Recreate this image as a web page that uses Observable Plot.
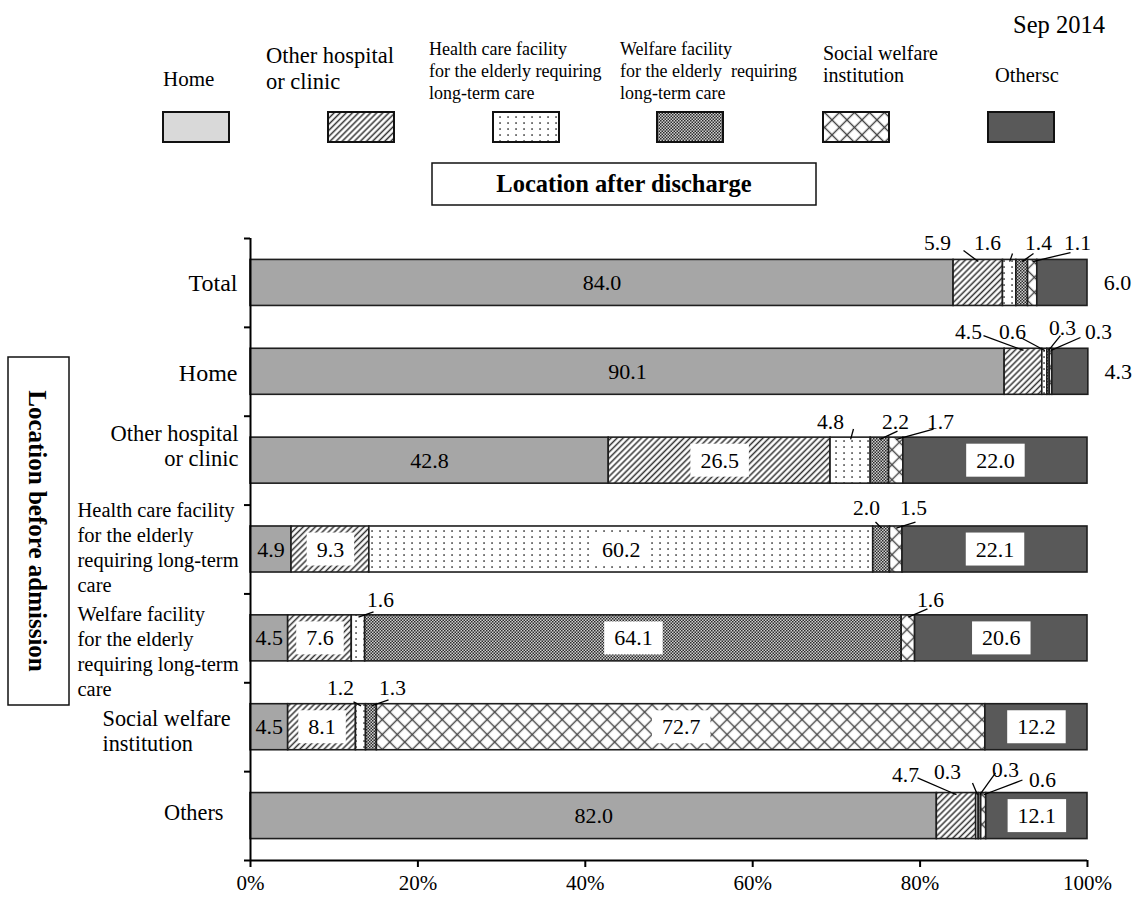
<!DOCTYPE html>
<html>
<head>
<meta charset="utf-8">
<script src="https://cdn.jsdelivr.net/npm/d3@7"></script>
<script src="https://cdn.jsdelivr.net/npm/@observablehq/plot@0.6"></script>
<style>
  body { margin: 0; background: #fff; }
  #wrap { position: relative; width: 1135px; height: 897px; }
  #wrap svg { position: absolute; left: 0; top: 0; }
  #wrap svg, #wrap svg text { font-family: "Liberation Serif", "Times New Roman", serif !important; }
  #overlay { pointer-events: none; }
</style>
</head>
<body>
<div id="wrap"></div>
<script>
// ---------------- data ----------------
const rows = [
  "Total",
  "Home",
  "Other hospital\nor clinic",
  "Health care facility\nfor the elderly\nrequiring long-term\ncare",
  "Welfare facility\nfor the elderly\nrequiring long-term\ncare",
  "Social welfare\ninstitution",
  "Others"
];
const series = [
  "Home",
  "Other hospital or clinic",
  "Health care facility for the elderly requiring long-term care",
  "Welfare facility for the elderly requiring long-term care",
  "Social welfare institution",
  "Othersc"
];
const legendLabels = [
  "Home",
  "Other hospital\nor clinic",
  "Health care facility\nfor the elderly requiring\nlong-term care",
  "Welfare facility\nfor the elderly  requiring\nlong-term care",
  "Social welfare\ninstitution",
  "Othersc"
];
const vHome     = [84.0, 90.1, 42.8,  4.9,  4.5,  4.5, 82.0];
const vHospital = [ 5.9,  4.5, 26.5,  9.3,  7.6,  8.1,  4.7];
const vHealth   = [ 1.6,  0.6,  4.8, 60.2,  1.6,  1.2,  0.3];
const vWelfare  = [ 1.4,  0.3,  2.2,  2.0, 64.1,  1.3,  0.3];
const vSocial   = [ 1.1,  0.3,  1.7,  1.5,  1.6, 72.7,  0.6];
const vOthers   = [ 6.0,  4.3, 22.0, 22.1, 20.6, 12.2, 12.1];
const xTicks = [0, 20, 40, 60, 80, 100];
const dateLabel = "Sep 2014";
const topTitle = "Location after discharge";
const sideTitle = "Location before admission";

// ---------------- styles / layout ----------------
const FONT = '"Liberation Serif","Times New Roman",serif';
const fills = ["#a6a6a6", "url(#pHatch)", "url(#pDots)", "url(#pCheck)", "url(#pLattice)", "#595959"];
const legendFills = ["#d9d9d9", "url(#pHatch)", "url(#pDots)", "url(#pCheck)", "url(#pLattice)", "#595959"];

// row label styling: anchor, dx, dy, font size, line height
const rowStyle = [
  {anchor: "end",   dx: -13,  dy: 0,   fs: 24,   lh: 1.1},
  {anchor: "end",   dx: -13,  dy: 1,   fs: 24,   lh: 1.1},
  {anchor: "end",   dx: -12,  dy: -15, fs: 22.5, lh: 1.11},
  {anchor: "start", dx: -173, dy: -3,  fs: 20.5, lh: 1.22},
  {anchor: "start", dx: -173, dy: 12,  fs: 20.5, lh: 1.22},
  {anchor: "start", dx: -148, dy: 3,   fs: 22.3, lh: 1.12},
  {anchor: "end",   dx: -27,  dy: -4,  fs: 22.3, lh: 1.1}
];

// leader-line annotation layout: [row, series, labelX, labelDy, lineStartX, lineStartDy]
const leaderLayout = [
  [0,1, 82.08,-0.443, 85.19,-0.365],
  [0,2, 88.05,-0.443, 91.04,-0.331],
  [0,3, 94.15,-0.443, 93.55,-0.331],
  [0,4, 98.81,-0.443, 97.97,-0.342],
  [1,1, 85.78,-0.442, 87.57,-0.408],
  [1,2, 91.04,-0.442, 92.00,-0.386],
  [1,3, 97.01,-0.487, 96.77,-0.408],
  [1,4, 101.31,-0.442, 99.16,-0.386],
  [2,2, 69.30,-0.434, 72.04,-0.356],
  [2,3, 77.06,-0.434, 77.30,-0.333],
  [2,4, 82.44,-0.434, 81.60,-0.356],
  [3,3, 73.60,-0.467, 74.67,-0.309],
  [3,4, 79.21,-0.467, 79.45,-0.309],
  [4,2, 15.53,-0.432, 14.70,-0.297],
  [4,4, 81.24,-0.432, 80.88,-0.331],
  [5,2, 10.75,-0.442, 12.31,-0.285],
  [5,3, 16.97,-0.442, 16.49,-0.307],
  [6,1, 78.26,-0.463, 79.69,-0.429],
  [6,2, 83.27,-0.496, 86.26,-0.372],
  [6,3, 90.20,-0.519, 89.01,-0.485],
  [6,4, 94.62,-0.406, 92.23,-0.406]
];

// ---------------- derived table ----------------
const valueCols = [vHome, vHospital, vHealth, vWelfare, vSocial, vOthers];
const segments = [];
rows.forEach((row, r) => {
  let acc = 0;
  valueCols.forEach((col, s) => {
    const v = col[r];
    segments.push({r, row, s, series: series[s], value: v, x1: acc, x2: acc + v, mid: acc + v / 2});
    acc += v;
  });
});
const fmt = d3.format(".1f");
const isInside = d => d.s === 0 || d.value >= 7;
const insidePlain = segments.filter(d => isInside(d) && d.s === 0);
const insideBoxed = segments.filter(d => isInside(d) && d.s !== 0);
const outside = segments.filter(d => !isInside(d) && d.s === 5);
const leaders = leaderLayout.map(([r, s, lx, ldy, sx, sdy]) => {
  const seg = segments.find(d => d.r === r && d.s === s);
  return {...seg, tx: lx, ty: r + 0.5 + ldy, ax: sx, ay: r + 0.5 + sdy, bx: seg.mid, by: r + 0.5 - 0.24};
});
const rowData = rows.map((label, r) => ({label, r}));

// ---------------- chart ----------------
const chart = Plot.plot({
  width: 1135,
  height: 897,
  marginTop: 238,
  marginBottom: 37,
  marginLeft: 250,
  marginRight: 48,
  style: {fontFamily: FONT, fontSize: "21px", background: "transparent", color: "black"},
  x: {domain: [0, 100]},
  y: {domain: [0, 7], reverse: true},
  color: {type: "ordinal", domain: series, range: fills},
  marks: [
    Plot.rect(segments, {
      x1: "x1", x2: "x2",
      y1: d => d.r + 0.241, y2: d => d.r + 0.759,
      fill: "series", stroke: "#1e1e1e", strokeWidth: 1.6
    }),
    Plot.ruleX([0], {y1: 0, y2: 7, stroke: "black", strokeWidth: 2}),
    Plot.ruleY([7], {x1: 0, x2: 100, stroke: "black", strokeWidth: 2}),
    Plot.axisY({ticks: d3.range(0, 8), tickSize: 6, tickFormat: () => "", strokeWidth: 2, anchor: "left", label: null}),
    Plot.axisX({ticks: xTicks, tickSize: 7, tickPadding: 8, tickFormat: d => d + "%", fontSize: 21, strokeWidth: 2, anchor: "bottom", label: null}),
    ...rowStyle.map((st, r) => Plot.text(rowData.filter(d => d.r === r), {
      x: () => 0, y: d => d.r + 0.5, text: "label",
      textAnchor: st.anchor, dx: st.dx, dy: st.dy, fontSize: st.fs, lineHeight: st.lh, fill: "black"
    })),
    Plot.text(insidePlain, {x: "mid", y: d => d.r + 0.5, text: d => fmt(d.value), fontSize: 22, fill: "black"}),
    Plot.text(insideBoxed, {x: "mid", y: d => d.r + 0.5, text: d => fmt(d.value), fontSize: 22, fill: "#010101"}),
    Plot.text(outside, {x: "x2", dx: 30, y: d => d.r + 0.5, text: d => fmt(d.value), fontSize: 22, fill: "black"}),
    Plot.link(leaders, {x1: "ax", y1: "ay", x2: "bx", y2: "by", stroke: "black", strokeWidth: 1.3}),
    Plot.text(leaders, {x: "tx", y: "ty", text: d => fmt(d.value), fontSize: 21.5, fill: "black"})
  ]
});

const wrap = document.getElementById("wrap");
wrap.append(chart);

// pattern definitions
const defsHTML = `
<pattern id="pHatch" patternUnits="userSpaceOnUse" width="4.3" height="4.3" patternTransform="rotate(45)">
  <rect width="4.3" height="4.3" fill="#ffffff"/>
  <line x1="2.15" y1="0" x2="2.15" y2="4.3" stroke="#303030" stroke-width="1.5"/>
</pattern>
<pattern id="pDots" patternUnits="userSpaceOnUse" width="8" height="6">
  <rect width="8" height="6" fill="#ffffff"/>
  <rect x="3.3" y="2.3" width="1.5" height="1.5" fill="#222"/>
</pattern>
<pattern id="pCheck" patternUnits="userSpaceOnUse" width="3" height="3">
  <rect width="3" height="3" fill="#cfcfcf"/>
  <rect x="0" y="0" width="1.5" height="1.5" fill="#2c2c2c"/>
  <rect x="1.5" y="1.5" width="1.5" height="1.5" fill="#2c2c2c"/>
</pattern>
<pattern id="pLattice" patternUnits="userSpaceOnUse" width="10.6" height="10.6" patternTransform="rotate(45)">
  <rect width="10.6" height="10.6" fill="#ffffff"/>
  <line x1="5.3" y1="0" x2="5.3" y2="10.6" stroke="#444" stroke-width="1.4"/>
  <line x1="0" y1="5.3" x2="10.6" y2="5.3" stroke="#444" stroke-width="1.4"/>
</pattern>`;
const defs = document.createElementNS("http://www.w3.org/2000/svg", "defs");
defs.innerHTML = defsHTML;
chart.insertBefore(defs, chart.firstChild);

// white boxes behind the labels sitting on patterned / dark segments
chart.querySelectorAll('g[fill="#010101"] text').forEach(t => {
  const b = t.getBBox();
  const r = document.createElementNS("http://www.w3.org/2000/svg", "rect");
  r.setAttribute("x", b.x - 10);
  r.setAttribute("y", b.y - 4);
  r.setAttribute("width", b.width + 20);
  r.setAttribute("height", b.height + 8);
  r.setAttribute("fill", "#ffffff");
  r.setAttribute("stroke", "none");
  if (t.getAttribute("transform")) r.setAttribute("transform", t.getAttribute("transform"));
  t.parentNode.insertBefore(r, t);
});

// ---------------- legend, titles (overlay) ----------------
const ov = d3.select(wrap).append("svg")
  .attr("id", "overlay")
  .attr("width", 1135).attr("height", 897)
  .style("font-family", FONT);

const swX = [163, 328, 493, 657, 823, 988];
const legText = [
  {x: 163, base: [86], fs: 21},
  {x: 266, base: [63, 89], fs: 22.5},
  {x: 429, base: [55, 77, 99], fs: 18},
  {x: 620, base: [55, 77, 99], fs: 18},
  {x: 823, base: [60, 82], fs: 20},
  {x: 995, base: [82], fs: 20.5}
];
series.forEach((s, i) => {
  ov.append("rect")
    .attr("x", swX[i]).attr("y", 112).attr("width", 66).attr("height", 30)
    .attr("fill", legendFills[i]).attr("stroke", "#111").attr("stroke-width", 2);
  const lt = legText[i];
  legendLabels[i].split("\n").forEach((line, k) => {
    ov.append("text")
      .attr("x", lt.x).attr("y", lt.base[k])
      .attr("font-size", lt.fs)
      .style("white-space", "pre")
      .text(line);
  });
});

ov.append("text").attr("x", 1013).attr("y", 33).attr("font-size", 24.5).text(dateLabel);

// top box
ov.append("rect").attr("x", 432).attr("y", 163).attr("width", 384).attr("height", 42)
  .attr("fill", "white").attr("stroke", "#111").attr("stroke-width", 1.5);
ov.append("text").attr("x", 624).attr("y", 192).attr("text-anchor", "middle")
  .attr("font-size", 24.5).attr("font-weight", "bold").text(topTitle);

// side box
ov.append("rect").attr("x", 8).attr("y", 357).attr("width", 61).attr("height", 348)
  .attr("fill", "white").attr("stroke", "#111").attr("stroke-width", 1.5);
ov.append("text")
  .attr("transform", "translate(29,531) rotate(90)")
  .attr("text-anchor", "middle")
  .attr("font-size", 25).attr("font-weight", "bold").text(sideTitle);
</script>
</body>
</html>
